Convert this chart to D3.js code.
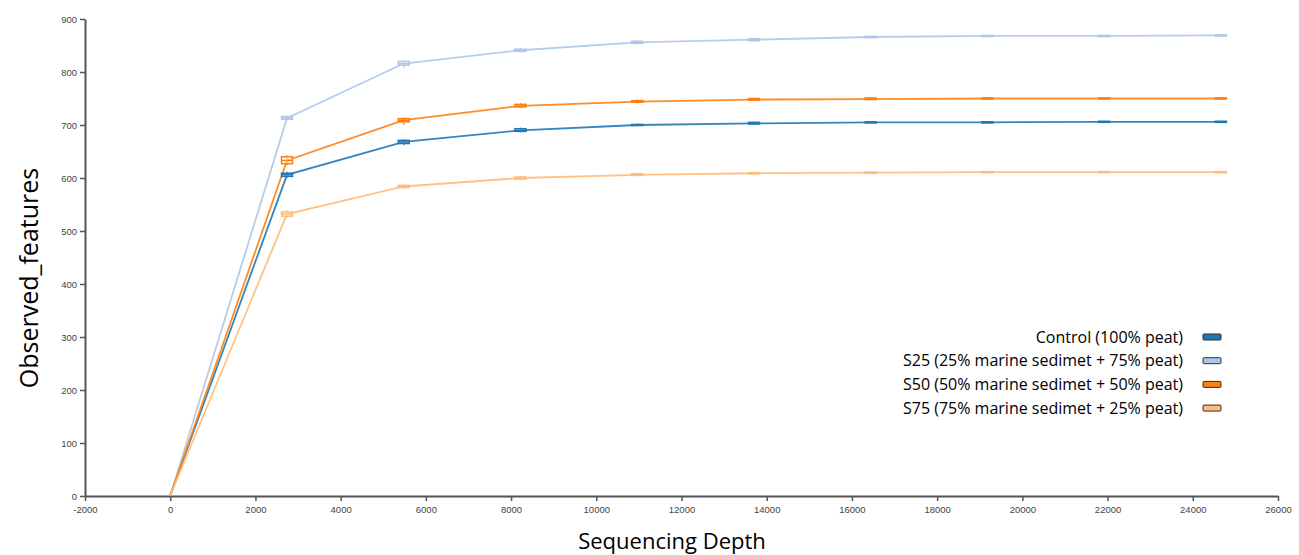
<!DOCTYPE html>
<html>
<head>
<meta charset="utf-8">
<script src="https://cdn.jsdelivr.net/npm/d3@7"></script>
<style>
  body { margin: 0; background: #fff; }
</style>
</head>
<body>
<div id="chart"></div>
<script>
// rarefaction depths (x)
var depths = [1, 2741, 5481, 8220, 10960, 13700, 16440, 19179, 21919, 24659];

var groups = ["Control (100% peat)", "S25 (25% marine sedimet + 75% peat)",
              "S50 (50% marine sedimet + 50% peat)", "S75 (75% marine sedimet + 25% peat)"];
var colors = ["#1f77b4", "#aec7e8", "#ff7f0e", "#ffbb78"];

// medians
var controlMed = [1, 606, 668, 690, 700, 703, 705, 705, 706, 706];
var s25Med     = [1, 713, 816, 841, 856, 861, 866, 868, 868, 869];
var s50Med     = [1, 633, 709, 736, 744, 748, 749, 750, 750, 750];
var s75Med     = [1, 532, 584, 600, 606, 609, 610, 611, 611, 611];

// lower / upper quartiles
var controlQ1 = [1, 603, 665, 688, 699, 702, 704, 704, 705, 705];
var controlQ3 = [1, 609, 671, 693, 701, 705, 706, 706, 707, 707];
var s25Q1     = [1, 711, 813, 839, 854, 859, 865, 867, 867, 868];
var s25Q3     = [1, 716, 820, 843, 858, 863, 867, 869, 869, 870];
var s50Q1     = [1, 627, 706, 734, 743, 747, 748, 749, 749, 749];
var s50Q3     = [1, 640, 712, 739, 746, 750, 751, 751, 751, 751];
var s75Q1     = [1, 528, 582, 598, 605, 608, 609, 610, 610, 610];
var s75Q3     = [1, 536, 586, 602, 608, 610, 611, 612, 612, 612];

// whisker ends
var controlMin = [1, 600, 662, 686, 698, 701, 703, 703, 704, 704];
var controlMax = [1, 612, 673, 695, 703, 706, 707, 707, 708, 708];
var s25Min     = [1, 709, 808, 837, 852, 858, 864, 866, 866, 867];
var s25Max     = [1, 718, 822, 845, 860, 864, 868, 870, 870, 871];
var s50Min     = [1, 624, 700, 732, 741, 746, 747, 748, 748, 748];
var s50Max     = [1, 643, 714, 741, 748, 751, 752, 752, 752, 752];
var s75Min     = [1, 525, 580, 596, 603, 607, 608, 609, 609, 609];
var s75Max     = [1, 539, 588, 604, 610, 611, 612, 613, 613, 613];

var xTicks = d3.range(-2000, 26001, 2000);
var yTicks = d3.range(0, 901, 100);

var series = [
  {name: groups[0], color: colors[0], med: controlMed, q1: controlQ1, q3: controlQ3, lo: controlMin, hi: controlMax},
  {name: groups[1], color: colors[1], med: s25Med, q1: s25Q1, q3: s25Q3, lo: s25Min, hi: s25Max},
  {name: groups[2], color: colors[2], med: s50Med, q1: s50Q1, q3: s50Q3, lo: s50Min, hi: s50Max},
  {name: groups[3], color: colors[3], med: s75Med, q1: s75Q1, q3: s75Q3, lo: s75Min, hi: s75Max}
];

var width = 1299, height = 555;
var margin = {top: 19, right: 21, bottom: 59, left: 85};

var svg = d3.select("#chart").append("svg")
  .attr("width", width)
  .attr("height", height);

var x = d3.scaleLinear()
  .domain([-2000, 26000])
  .range([margin.left, width - margin.right]);

var y = d3.scaleLinear()
  .domain([0, 900])
  .range([height - margin.bottom, margin.top]);

var tickFont = "Arial, 'Liberation Sans', sans-serif";
var titleFont = "'Open Sans', 'Noto Sans', sans-serif";

// x axis
var gx = svg.append("g")
  .attr("transform", "translate(0," + y(0) + ")")
  .call(d3.axisBottom(x).tickValues(xTicks).tickSize(5).tickSizeOuter(0).tickFormat(function(d) { return String(d); }));
// y axis
var gy = svg.append("g")
  .attr("transform", "translate(" + x(-2000) + ",0)")
  .call(d3.axisLeft(y).tickValues(yTicks).tickSize(5).tickSizeOuter(0));

[gx, gy].forEach(function(g) {
  g.select(".domain").attr("stroke", "#555").attr("stroke-width", 2);
  g.selectAll(".tick line").attr("stroke", "#555").attr("stroke-width", 1.5);
  g.selectAll(".tick text").attr("fill", "#444").style("font-family", tickFont).style("font-size", "9.5px");
});
gx.selectAll(".tick text").attr("dy", "0.9em");
gy.selectAll(".tick text").attr("x", -8);

// axis titles
svg.append("text")
  .attr("x", 672)
  .attr("y", 549)
  .attr("text-anchor", "middle")
  .style("font-family", titleFont)
  .style("font-size", "22px")
  .attr("fill", "#000")
  .text("Sequencing Depth");

svg.append("text")
  .attr("transform", "translate(38," + 278 + ") rotate(-90)")
  .attr("text-anchor", "middle")
  .style("font-family", titleFont)
  .style("font-size", "25px")
  .attr("fill", "#000")
  .text("Observed_features");

// lines through medians
var line = d3.line()
  .x(function(d, i) { return x(depths[i]); })
  .y(function(d) { return y(d); });

var plot = svg.append("g");

series.forEach(function(s) {
  plot.append("path")
    .datum(s.med)
    .attr("fill", "none")
    .attr("stroke", s.color)
    .attr("stroke-width", 1.8)
    .attr("stroke-opacity", 0.9)
    .attr("d", line);
});

// box plots
var bw = 11;
series.forEach(function(s) {
  var g = plot.append("g");
  depths.forEach(function(dep, i) {
    if (i === 0) return;
    var cx = x(dep);
    g.append("line")
      .attr("x1", cx).attr("x2", cx)
      .attr("y1", y(s.lo[i])).attr("y2", y(s.hi[i]))
      .attr("stroke", s.color).attr("stroke-width", 1.2);
    g.append("rect")
      .attr("x", cx - bw / 2)
      .attr("y", y(s.q3[i]))
      .attr("width", bw)
      .attr("height", Math.max(1, y(s.q1[i]) - y(s.q3[i])))
      .attr("fill", "#fff")
      .attr("fill-opacity", 0.6)
      .attr("stroke", s.color)
      .attr("stroke-width", 1.5);
    g.append("line")
      .attr("x1", cx - bw / 2).attr("x2", cx + bw / 2)
      .attr("y1", y(s.med[i])).attr("y2", y(s.med[i]))
      .attr("stroke", s.color).attr("stroke-width", 1.5);
  });
});

// legend
var legend = svg.append("g");
series.forEach(function(s, i) {
  var ly = 337 + i * 23.7;
  legend.append("text")
    .attr("x", 1183)
    .attr("y", ly)
    .attr("dy", "0.35em")
    .attr("text-anchor", "end")
    .style("font-family", titleFont)
    .style("font-size", "16px")
    .attr("fill", "#000")
    .text(s.name);
  legend.append("rect")
    .attr("x", 1203)
    .attr("y", ly - 3)
    .attr("width", 18)
    .attr("height", 6)
    .attr("rx", 1)
    .attr("fill", s.color)
    .attr("stroke", "#333")
    .attr("stroke-width", 1);
});
</script>
</body>
</html>
